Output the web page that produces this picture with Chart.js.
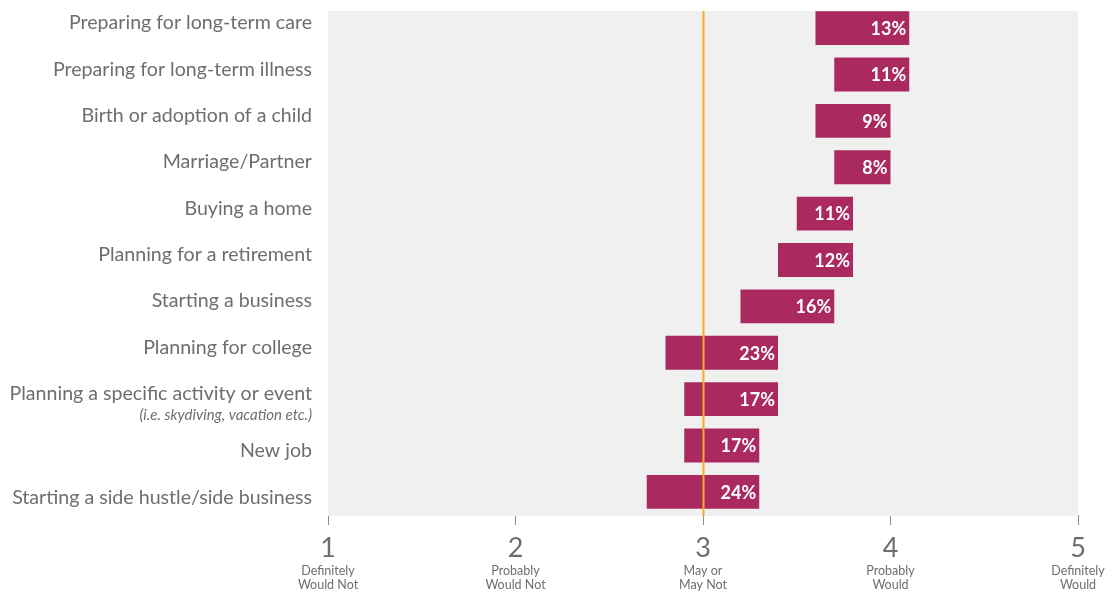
<!DOCTYPE html>
<html>
<head>
<meta charset="utf-8">
<script src="https://cdn.jsdelivr.net/npm/chart.js@4.4.1/dist/chart.umd.min.js"></script>
<style>
  html, body { margin: 0; padding: 0; background: #fff; }
  #wrap { position: relative; width: 1118px; height: 593px; }
</style>
</head>
<body>
<div id="wrap"><canvas id="lifeEvents"></canvas></div>
<script>
// life events, top row first
var events = [
  'Preparing for long-term care',
  'Preparing for long-term illness',
  'Birth or adoption of a child',
  'Marriage/Partner',
  'Buying a home',
  'Planning for a retirement',
  'Starting a business',
  'Planning for college',
  'Planning a specific activity or event',
  'New job',
  'Starting a side hustle/side business'
];
// small italic note under a category name
var eventNotes = ['', '', '', '', '', '', '', '', '(i.e. skydiving, vacation etc.)', '', ''];

// range of answers on the 1-5 scale
var rangeLow  = [3.6, 3.7, 3.6, 3.7, 3.5, 3.4, 3.2, 2.8, 2.9, 2.9, 2.7];
var rangeHigh = [4.1, 4.1, 4.0, 4.0, 3.8, 3.8, 3.7, 3.4, 3.4, 3.3, 3.3];
// share of respondents, printed inside the bar
var shares = [13, 11, 9, 8, 11, 12, 16, 23, 17, 17, 24];

var scalePoints = [1, 2, 3, 4, 5];
var scaleNames = [
  ['Definitely', 'Would Not'],
  ['Probably', 'Would Not'],
  ['May or', 'May Not'],
  ['Probably', 'Would'],
  ['Definitely', 'Would']
];
var midpoint = 3;

var GREY_TEXT = '#6d6e71';
var BAR = '#aa2a60';
var FONT = 'Lato, "Open Sans", sans-serif';

var ranges = events.map(function(e, i) { return [rangeLow[i], rangeHigh[i]]; });

var decorations = {
  id: 'decorations',
  beforeDatasetsDraw: function(chart) {
    var a = chart.chartArea, ctx = chart.ctx;
    ctx.save();
    ctx.fillStyle = '#f0f0f0';
    ctx.fillRect(a.left, a.top + 6, a.right - a.left, a.bottom - a.top - 5);
    ctx.restore();
  },
  afterDatasetsDraw: function(chart) {
    var a = chart.chartArea, ctx = chart.ctx;
    var x = chart.scales.x, y = chart.scales.y;
    ctx.save();

    // neutral answer line
    var mx = Math.round(x.getPixelForValue(midpoint)) + 0.5;
    ctx.strokeStyle = '#f5ac2a';
    ctx.lineWidth = 2;
    ctx.beginPath();
    ctx.moveTo(mx, a.top + 6);
    ctx.lineTo(mx, a.bottom + 1);
    ctx.stroke();

    // percentages inside the bars
    var meta = chart.getDatasetMeta(0);
    ctx.fillStyle = '#fff';
    ctx.font = 'bold 18px ' + FONT;
    ctx.textAlign = 'right';
    ctx.textBaseline = 'middle';
    meta.data.forEach(function(bar, i) {
      var right = Math.max(bar.x, bar.base);
      ctx.fillText(shares[i] + '%', right - 3, bar.y + 1);
    });

    // category names; rows under a two-line name sit a little lower
    ctx.fillStyle = GREY_TEXT;
    ctx.textBaseline = 'alphabetic';
    var shift = 0;
    events.forEach(function(name, i) {
      var cy = y.getPixelForTick(i) + shift;
      ctx.font = '19.6px ' + FONT;
      ctx.fillText(name, a.left - 16, cy + 1);
      if (eventNotes[i]) {
        ctx.font = 'italic 15px ' + FONT;
        ctx.fillText(eventNotes[i], a.left - 16, cy + 21);
        shift = 11;
      }
    });

    // scale numbers and their meaning
    ctx.textAlign = 'center';
    scalePoints.forEach(function(v, i) {
      var px = x.getPixelForValue(v);
      ctx.font = '27px ' + FONT;
      ctx.fillText(String(v), px, 557);
      ctx.font = '12.5px ' + FONT;
      ctx.fillText(scaleNames[i][0], px, 575);
      ctx.fillText(scaleNames[i][1], px, 589);
    });
    ctx.restore();
  }
};

new Chart(document.getElementById('lifeEvents'), {
  type: 'bar',
  data: {
    labels: events,
    datasets: [{
      data: ranges,
      backgroundColor: BAR,
      borderWidth: 0,
      borderSkipped: false,
      barPercentage: 0.73,
      categoryPercentage: 1
    }]
  },
  options: {
    indexAxis: 'y',
    responsive: true,
    maintainAspectRatio: false,
    animation: false,
    layout: { padding: { left: 328, right: 40, top: 5, bottom: 68 } },
    plugins: {
      legend: { display: false },
      tooltip: { enabled: false }
    },
    scales: {
      x: {
        min: 1,
        max: 5,
        ticks: { display: false, stepSize: 1 },
        grid: { drawOnChartArea: false, drawTicks: true, tickLength: 10, color: '#8a8a8a', lineWidth: 1 },
        border: { display: false }
      },
      y: {
        display: false
      }
    }
  },
  plugins: [decorations]
});
</script>
</body>
</html>
